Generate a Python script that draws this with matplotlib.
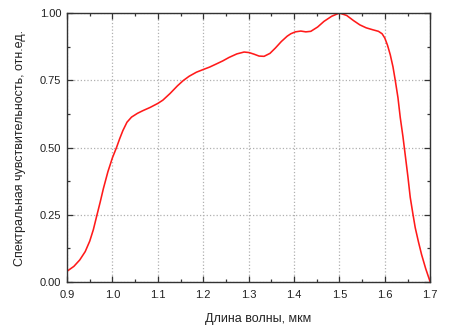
import numpy as np
import matplotlib.pyplot as plt
from matplotlib.ticker import MultipleLocator

# Кривая спектральной чувствительности
wavelength = [0.900, 0.915, 0.928, 0.940, 0.950, 0.958, 0.965, 0.973, 0.980, 0.990,
              1.000, 1.009, 1.016, 1.023, 1.032, 1.042, 1.055, 1.067, 1.083, 1.100,
              1.111, 1.127, 1.143, 1.156, 1.169, 1.185, 1.200, 1.214, 1.228, 1.243,
              1.257, 1.274, 1.290, 1.301, 1.312, 1.323, 1.334, 1.347, 1.359, 1.372,
              1.385, 1.393, 1.403, 1.415, 1.426, 1.437, 1.452, 1.466, 1.483, 1.500,
              1.516, 1.531, 1.545, 1.559, 1.573, 1.586, 1.594, 1.600, 1.606, 1.612,
              1.618, 1.623, 1.629, 1.634, 1.640, 1.645, 1.651, 1.656, 1.662, 1.667,
              1.674, 1.681, 1.690, 1.700]
sensitivity = [0.040, 0.058, 0.082, 0.113, 0.152, 0.195, 0.243, 0.297, 0.347, 0.410,
               0.462, 0.500, 0.533, 0.563, 0.594, 0.613, 0.627, 0.637, 0.649, 0.664,
               0.676, 0.701, 0.729, 0.749, 0.765, 0.780, 0.790, 0.799, 0.810, 0.822,
               0.835, 0.848, 0.855, 0.853, 0.847, 0.840, 0.839, 0.850, 0.870, 0.894,
               0.914, 0.923, 0.930, 0.933, 0.930, 0.932, 0.948, 0.969, 0.988, 1.000,
               0.991, 0.972, 0.956, 0.945, 0.938, 0.932, 0.923, 0.907, 0.880, 0.845,
               0.800, 0.750, 0.685, 0.612, 0.540, 0.472, 0.390, 0.315, 0.252, 0.202,
               0.150, 0.102, 0.050, 0.000]

plt.rcParams["font.family"] = ["Liberation Sans", "DejaVu Sans"]

fig = plt.figure(figsize=(4.5, 3.3), dpi=100)
ax = fig.add_axes([0.149, 0.1455, 0.807, 0.815])

ax.plot(wavelength, sensitivity, color="#ff1a1a", linewidth=1.15,
        solid_joinstyle="round", solid_capstyle="round")

ax.set_xlim(0.9, 1.7)
ax.set_ylim(0.0, 1.0)
ax.xaxis.set_major_locator(MultipleLocator(0.1))
ax.xaxis.set_minor_locator(MultipleLocator(0.05))
ax.yaxis.set_major_locator(MultipleLocator(0.25))
ax.yaxis.set_minor_locator(MultipleLocator(0.125))
ax.xaxis.set_major_formatter(plt.FormatStrFormatter("%.1f"))
ax.yaxis.set_major_formatter(plt.FormatStrFormatter("%.2f"))

ax.tick_params(which="both", direction="in", top=True, right=True,
               color="#333333", labelsize=8, labelcolor="#222222")
ax.tick_params(which="major", length=4, width=0.9)
ax.tick_params(which="minor", length=2.5, width=0.9)
ax.tick_params(axis="x", pad=6)
ax.tick_params(axis="y", pad=4)

for s in ax.spines.values():
    s.set_color("#333333")
    s.set_linewidth(1.0)

ax.grid(True, which="major", color="#b0b0b0", linestyle=":", linewidth=0.9)

ax.set_xlabel("Длина волны, мкм", fontsize=9, labelpad=9, color="#222222")
ax.xaxis.set_label_coords(0.527, -0.115)
ax.set_ylabel("Спектральная чувствительность, отн.ед.", fontsize=9,
              labelpad=10, color="#222222")

fig.savefig("out.png", dpi=100)
